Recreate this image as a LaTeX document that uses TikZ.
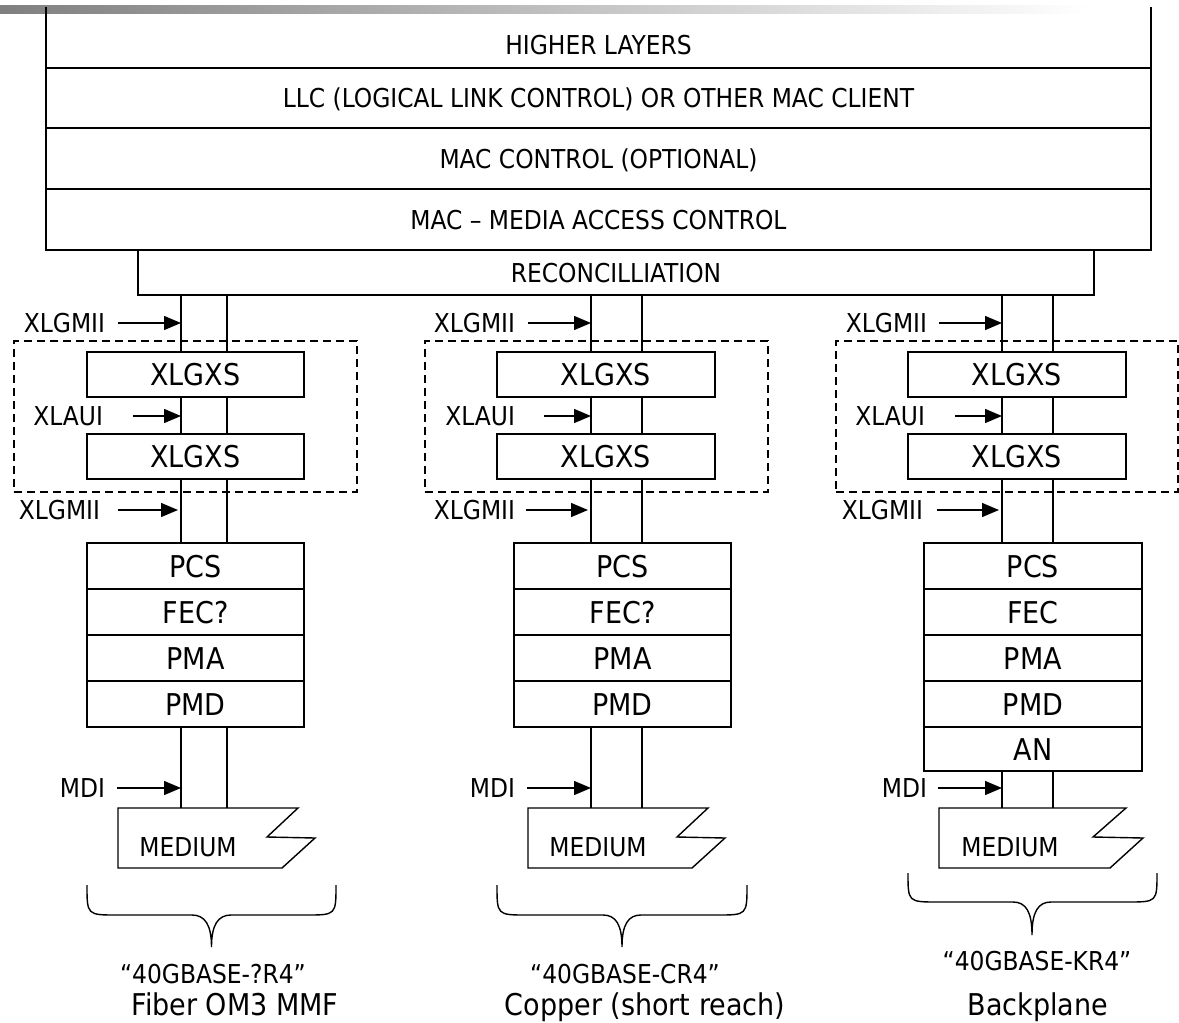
\documentclass[tikz,border=0pt]{standalone}
\usepackage{fontspec}
\setmainfont{DejaVu Sans Condensed}
\usetikzlibrary{arrows.meta}
\begin{document}
\begin{tikzpicture}[x=1pt,y=-1pt,line width=1.4pt,
 sm/.style={font=\fontsize{26}{30}\selectfont, text height=19pt, text depth=0pt},
 lg/.style={font=\fontsize{30}{34}\selectfont, text height=22pt, text depth=0pt},
 box/.style={draw, inner sep=0pt, outer sep=0pt, anchor=north west},
 lbl/.style={sm, inner sep=0pt, outer sep=0pt, anchor=east},
 arr/.style={-{Triangle[length=17pt,width=14pt]}, line width=1.4pt},
 grp/.style={draw, dash pattern=on 8pt off 5pt, line width=1.2pt, inner sep=0pt, outer sep=0pt, anchor=north west},
 txt/.style={inner sep=0pt, outer sep=0pt},
 brace/.style={line width=1.4pt}]
\useasboundingbox (0,0) rectangle (1179,1023);
\shade[left color=black!50, right color=white] (0,5) rectangle (1090,13);

% upper layers
\coordinate (tl) at (46,7); \coordinate (tr) at (1151,7);
\node[box,sm,draw=none,minimum width=1105pt,minimum height=46pt] (hl) at (46,22) {HIGHER LAYERS};
\draw (tl) -- (tl |- hl.south) (tr) -- (tr |- hl.south);
\node[box,sm,minimum width=1105pt,minimum height=60pt] (llc) at (46,68) {LLC (LOGICAL LINK CONTROL) OR OTHER MAC CLIENT};
\node[box,sm,minimum width=1105pt,minimum height=61pt] (macc) at (46,128) {MAC CONTROL (OPTIONAL)};
\node[box,sm,minimum width=1105pt,minimum height=61pt] (mac) at (46,189) {MAC – MEDIA ACCESS CONTROL};
\node[box,sm,minimum width=956pt,minimum height=45pt] (rec) at (138,250) {RECONCILLIATION};

% column x positions
\coordinate (a1) at (181,0); \coordinate (b1) at (227,0);
\coordinate (a2) at (591,0); \coordinate (b2) at (642,0);
\coordinate (a3) at (1002,0); \coordinate (b3) at (1053,0);

% ---------- column 1 ----------
\node[grp,minimum width=343pt,minimum height=151pt] (g1) at (14,341) {};
\node[box,lg,minimum width=217pt,minimum height=45pt] (xa1) at (87,352) {XLGXS};
\node[box,lg,minimum width=217pt,minimum height=45pt] (xb1) at (87,434) {XLGXS};
\node[box,lg,minimum width=217pt,minimum height=46pt] (pcs1) at (87,543) {PCS};
\node[box,lg,minimum width=217pt,minimum height=46pt] (fec1) at (87,589) {FEC?};
\node[box,lg,minimum width=217pt,minimum height=46pt] (pma1) at (87,635) {PMA};
\node[box,lg,minimum width=217pt,minimum height=46pt] (pmd1) at (87,681) {PMD};
\draw (118,808) -- (298,808) -- (267,837) -- (315,838) -- (282,868) -- (118,868) -- cycle;
\coordinate (mt1) at (118,808);
\node[txt,sm] (med1) at (188,847) {MEDIUM};
\foreach \c in {a1,b1}{
 \draw (rec.south -| \c) -- (xa1.north -| \c);
 \draw (xa1.south -| \c) -- (xb1.north -| \c);
 \draw (xb1.south -| \c) -- (pcs1.north -| \c);
 \draw (pmd1.south -| \c) -- (mt1 -| \c);}
\node[lbl] (l1a) at (105,323) {XLGMII};
\node[lbl] (l1b) at (103,416) {XLAUI};
\node[lbl] (l1c) at (100,510) {XLGMII};
\node[lbl] (l1d) at (105,788) {MDI};
\draw[arr] ([xshift=13pt]l1a.east) -- (l1a.east -| a1);
\draw[arr] ([xshift=30pt]l1b.east) -- (l1b.east -| a1);
\draw[arr,shorten >=3pt] ([xshift=18pt]l1c.east) -- (l1c.east -| a1);
\draw[arr] ([xshift=12pt]l1d.east) -- (l1d.east -| a1);
\draw[brace] (87,885) .. controls (87,915) and (87,915) .. (117,915) -- (192,915)
  .. controls (205,915) and (211.5,925) .. (211.5,947)
  .. controls (211.5,925) and (218,915) .. (231,915) -- (306,915)
  .. controls (336,915) and (336,915) .. (336,885);
\node[txt,sm] (n1) at (213,974) {“40GBASE-?R4”};
\node[txt,lg] (d1) at (235,1004) {Fiber OM3 MMF};

% ---------- column 2 ----------
\node[grp,minimum width=343pt,minimum height=151pt] (g2) at (425,341) {};
\node[box,lg,minimum width=218pt,minimum height=45pt] (xa2) at (497,352) {XLGXS};
\node[box,lg,minimum width=218pt,minimum height=45pt] (xb2) at (497,434) {XLGXS};
\node[box,lg,minimum width=217pt,minimum height=46pt] (pcs2) at (514,543) {PCS};
\node[box,lg,minimum width=217pt,minimum height=46pt] (fec2) at (514,589) {FEC?};
\node[box,lg,minimum width=217pt,minimum height=46pt] (pma2) at (514,635) {PMA};
\node[box,lg,minimum width=217pt,minimum height=46pt] (pmd2) at (514,681) {PMD};
\draw (528,808) -- (708,808) -- (677,837) -- (725,838) -- (692,868) -- (528,868) -- cycle;
\coordinate (mt2) at (528,808);
\node[txt,sm] (med2) at (598,847) {MEDIUM};
\foreach \c in {a2,b2}{
 \draw (rec.south -| \c) -- (xa2.north -| \c);
 \draw (xa2.south -| \c) -- (xb2.north -| \c);
 \draw (xb2.south -| \c) -- (pcs2.north -| \c);
 \draw (pmd2.south -| \c) -- (mt2 -| \c);}
\node[lbl] (l2a) at (515,323) {XLGMII};
\node[lbl] (l2b) at (515,416) {XLAUI};
\node[lbl] (l2c) at (515,510) {XLGMII};
\node[lbl] (l2d) at (515,788) {MDI};
\draw[arr] ([xshift=13pt]l2a.east) -- (l2a.east -| a2);
\draw[arr] ([xshift=29pt]l2b.east) -- (l2b.east -| a2);
\draw[arr,shorten >=3pt] ([xshift=11pt]l2c.east) -- (l2c.east -| a2);
\draw[arr] ([xshift=12pt]l2d.east) -- (l2d.east -| a2);
\draw[brace] (497,885) .. controls (497,915) and (497,915) .. (527,915) -- (603,915)
  .. controls (616,915) and (622,925) .. (622,947)
  .. controls (622,925) and (628,915) .. (641,915) -- (717,915)
  .. controls (747,915) and (747,915) .. (747,885);
\node[txt,sm] (n2) at (625,974) {“40GBASE-CR4”};
\node[txt,lg] (d2) at (645,1004) {Copper (short reach)};

% ---------- column 3 ----------
\node[grp,minimum width=342pt,minimum height=151pt] (g3) at (836,341) {};
\node[box,lg,minimum width=218pt,minimum height=45pt] (xa3) at (908,352) {XLGXS};
\node[box,lg,minimum width=218pt,minimum height=45pt] (xb3) at (908,434) {XLGXS};
\node[box,lg,minimum width=218pt,minimum height=46pt] (pcs3) at (924,543) {PCS};
\node[box,lg,minimum width=218pt,minimum height=46pt] (fec3) at (924,589) {FEC};
\node[box,lg,minimum width=218pt,minimum height=46pt] (pma3) at (924,635) {PMA};
\node[box,lg,minimum width=218pt,minimum height=46pt] (pmd3) at (924,681) {PMD};
\node[box,lg,minimum width=218pt,minimum height=44pt] (an3) at (924,727) {AN};
\draw (939,808) -- (1126,808) -- (1093,837) -- (1143,838) -- (1110,868) -- (939,868) -- cycle;
\coordinate (mt3) at (939,808);
\node[txt,sm] (med3) at (1010,847) {MEDIUM};
\foreach \c in {a3,b3}{
 \draw (rec.south -| \c) -- (xa3.north -| \c);
 \draw (xa3.south -| \c) -- (xb3.north -| \c);
 \draw (xb3.south -| \c) -- (pcs3.north -| \c);
 \draw (an3.south -| \c) -- (mt3 -| \c);}
\node[lbl] (l3a) at (927,323) {XLGMII};
\node[lbl] (l3b) at (925,416) {XLAUI};
\node[lbl] (l3c) at (923,510) {XLGMII};
\node[lbl] (l3d) at (927,788) {MDI};
\draw[arr] ([xshift=12pt]l3a.east) -- (l3a.east -| a3);
\draw[arr] ([xshift=30pt]l3b.east) -- (l3b.east -| a3);
\draw[arr,shorten >=3pt] ([xshift=14pt]l3c.east) -- (l3c.east -| a3);
\draw[arr] ([xshift=11pt]l3d.east) -- (l3d.east -| a3);
\draw[brace] (908,873) .. controls (908,902) and (908,902) .. (938,902) -- (1013,902)
  .. controls (1026,902) and (1032,912) .. (1032,935)
  .. controls (1032,912) and (1038,902) .. (1051,902) -- (1127,902)
  .. controls (1157,902) and (1157,902) .. (1157,873);
\node[txt,sm] (n3) at (1037,961) {“40GBASE-KR4”};
\node[txt,lg] (d3) at (1038,1004) {Backplane};
\end{tikzpicture}
\end{document}
